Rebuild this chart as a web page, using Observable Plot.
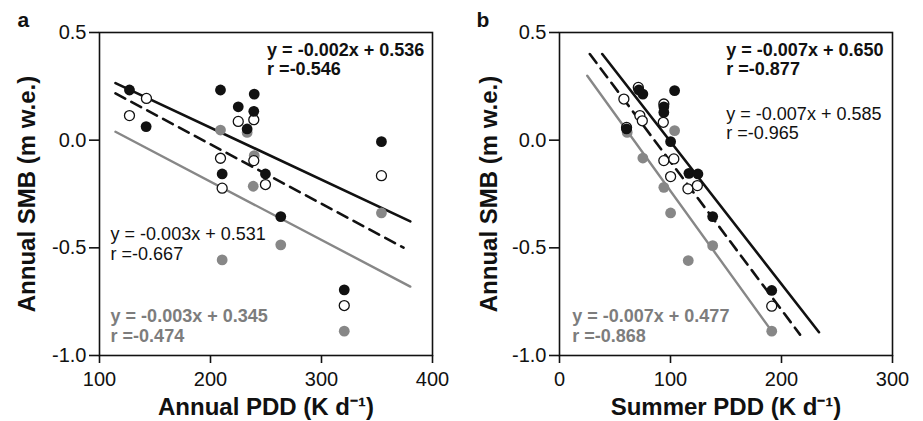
<!DOCTYPE html>
<html>
<head>
<meta charset="utf-8">
<script src="https://cdn.jsdelivr.net/npm/d3@7"></script>
<script src="https://cdn.jsdelivr.net/npm/@observablehq/plot@0.6"></script>
<style>
  body { margin: 0; background: #fff; }
  #wrap { position: relative; width: 923px; height: 421px; overflow: hidden; }
  #wrap svg { position: absolute; top: 0; }
</style>
</head>
<body>
<div id="wrap"></div>
<script>
// ---------- Panel a : Annual PDD vs Annual SMB ----------
const aBlackPDD = [127, 142, 209, 239.4, 225, 239, 233, 210.5, 249.5, 263.3, 320.5, 354];
const aBlackSMB = [0.233, 0.063, 0.233, 0.214, 0.155, 0.134, 0.052, -0.157, -0.157, -0.355, -0.695, -0.007];
const aOpenPDD  = [142.3, 127, 225, 239, 209, 239, 210.5, 249.5, 354, 320.5];
const aOpenSMB  = [0.194, 0.114, 0.087, 0.095, -0.084, -0.095, -0.223, -0.206, -0.165, -0.768];
const aGrayPDD  = [209, 233, 239.4, 238.5, 354, 263.3, 210.5, 320.5];
const aGraySMB  = [0.047, 0.036, -0.072, -0.214, -0.338, -0.486, -0.556, -0.887];
// regression line end points
const aFitBlackX = [114.4, 380],  aFitBlackY = [0.265, -0.377];
const aFitDashX  = [114.4, 373.9], aFitDashY  = [0.217, -0.499];
const aFitGrayX  = [114.4, 380],  aFitGrayY  = [0.039, -0.680];
const aLabels = ["y = -0.002x + 0.536\nr =-0.546", "y = -0.003x + 0.531\nr =-0.667", "y = -0.003x + 0.345\nr =-0.474"];

// ---------- Panel b : Summer PDD vs Annual SMB ----------
const bBlackPDD = [71.5, 75.1, 103.7, 94, 94, 60.4, 100.1, 116.6, 124.7, 138, 191.2];
const bBlackSMB = [0.233, 0.214, 0.230, 0.155, 0.129, 0.052, -0.007, -0.154, -0.157, -0.355, -0.698];
const bOpenPDD  = [71, 94, 60.4, 58, 72.4, 74.6, 93.5, 94, 103, 100.1, 115.7, 124.2, 191.2];
const bOpenSMB  = [0.245, 0.168, 0.059, 0.191, 0.114, 0.090, 0.083, -0.095, -0.087, -0.169, -0.226, -0.211, -0.771];
const bGrayPDD  = [61, 103.7, 75.1, 94, 100.1, 138, 116, 191.2];
const bGraySMB  = [0.036, 0.044, -0.083, -0.219, -0.338, -0.490, -0.559, -0.887];
const bFitBlackX = [38.5, 233.8], bFitBlackY = [0.400, -0.892];
const bFitDashX  = [27.3, 216.7], bFitDashY  = [0.400, -0.903];
const bFitGrayX  = [25.0, 191.2], bFitGrayY  = [0.299, -0.887];
const bLabels = ["y = -0.007x + 0.650\nr =-0.877", "y = -0.007x + 0.585\nr =-0.965", "y = -0.007x + 0.477\nr =-0.868"];

// ---------- axes ----------
const yTicks = [-1.0, -0.5, 0.0, 0.5];
const aXTicks = [100, 200, 300, 400];
const bXTicks = [0, 100, 200, 300];
const yTitle = "Annual SMB (m w.e.)";
const aXTitle = "Annual PDD (K d\u207B\u00B9)";
const bXTitle = "Summer PDD (K d\u207B\u00B9)";

const FONT = "'Liberation Sans', Arial, Helvetica, sans-serif";
const GRAY = "#878787";
const GRAYTXT = "#7d7d7d";

const pts = (xs, ys) => xs.map((x, i) => ({x, y: ys[i]}));

function panel(cfg) {
  const fitB = pts(cfg.fitBlack[0], cfg.fitBlack[1]);
  const fitD = pts(cfg.fitDash[0], cfg.fitDash[1]);
  const fitG = pts(cfg.fitGray[0], cfg.fitGray[1]);
  return Plot.plot({
    width: cfg.width,
    height: 421,
    marginLeft: 99,
    marginRight: cfg.marginRight,
    marginTop: 32,
    marginBottom: 66,
    style: {fontFamily: FONT, background: "transparent", overflow: "visible"},
    x: {domain: cfg.xDomain, axis: null},
    y: {domain: [-1, 0.5], axis: null},
    marks: [
      Plot.frame({stroke: "#111", strokeWidth: 1.6}),
      Plot.axisX({ticks: cfg.xTicks, tickSize: 8, tickPadding: 8, fontSize: 20, strokeWidth: 1.6, stroke: "#111",
                  tickFormat: d => String(d), label: null, fill: "#111"}),
      Plot.axisY({ticks: yTicks, tickSize: 10, tickPadding: 3, fontSize: 20, strokeWidth: 1.6, stroke: "#111",
                  tickFormat: d => d.toFixed(1), label: null, fill: "#111"}),
      Plot.text([cfg.xTitle], {frameAnchor: "bottom", dy: 59, lineAnchor: "bottom", textAnchor: "middle", fontSize: 24, fontWeight: "bold", fill: "#111"}),
      Plot.text([yTitle], {frameAnchor: "left", dx: cfg.yTitleDx, rotate: -90, lineAnchor: "middle", textAnchor: "middle", fontSize: 24, fontWeight: "bold", fill: "#111"}),
      Plot.text([cfg.letter], {frameAnchor: "top-left", dx: cfg.letterDx, dy: -6, lineAnchor: "bottom", textAnchor: "start", fontSize: 21, fontWeight: "bold", fill: "#111"}),
      // regression lines
      Plot.line(fitG, {x: "x", y: "y", stroke: GRAY, strokeWidth: 2.4}),
      Plot.line(fitD, {x: "x", y: "y", stroke: "#111", strokeWidth: 2.6, strokeDasharray: "11,7"}),
      Plot.line(fitB, {x: "x", y: "y", stroke: "#111", strokeWidth: 2.6}),
      // points
      Plot.dot(pts(cfg.gray[0], cfg.gray[1]), {x: "x", y: "y", r: 5.4, fill: GRAY, stroke: "none"}),
      Plot.dot(pts(cfg.open[0], cfg.open[1]), {x: "x", y: "y", r: 5, fill: "white", stroke: "#111", strokeWidth: 1.3}),
      Plot.dot(pts(cfg.black[0], cfg.black[1]), {x: "x", y: "y", r: 5.4, fill: "#111", stroke: "none"}),
      // equation labels
      Plot.text([cfg.labels[0]], {x: cfg.lab0[0], y: cfg.lab0[1], lineAnchor: "bottom", textAnchor: "start", lineHeight: 1.02, fontSize: 18, fontWeight: "bold", fill: "#111"}),
      Plot.text([cfg.labels[1]], {x: cfg.lab1[0], y: cfg.lab1[1], lineAnchor: "bottom", textAnchor: "start", lineHeight: 1.08, fontSize: 18, fill: "#111"}),
      Plot.text([cfg.labels[2]], {x: cfg.lab2[0], y: cfg.lab2[1], lineAnchor: "bottom", textAnchor: "start", lineHeight: 1.1, fontSize: 18, fontWeight: "bold", fill: GRAYTXT})
    ]
  });
}

const svgA = panel({
  width: 450, marginRight: 18, xDomain: [100, 400], xTicks: aXTicks, xTitle: aXTitle, letter: "a",
  yTitleDx: -72, letterDx: -82,
  black: [aBlackPDD, aBlackSMB], open: [aOpenPDD, aOpenSMB], gray: [aGrayPDD, aGraySMB],
  fitBlack: [aFitBlackX, aFitBlackY], fitDash: [aFitDashX, aFitDashY], fitGray: [aFitGrayX, aFitGrayY],
  labels: aLabels, lab0: [251, 0.304], lab1: [110, -0.555], lab2: [110, -0.938]
});
const svgB = panel({
  width: 463, marginRight: 31, xDomain: [0, 300], xTicks: bXTicks, xTitle: bXTitle, letter: "b",
  yTitleDx: -70, letterDx: -83,
  black: [bBlackPDD, bBlackSMB], open: [bOpenPDD, bOpenSMB], gray: [bGrayPDD, bGraySMB],
  fitBlack: [bFitBlackX, bFitBlackY], fitDash: [bFitDashX, bFitDashY], fitGray: [bFitGrayX, bFitGrayY],
  labels: bLabels, lab0: [150.3, 0.304], lab1: [150.3, 0.0056], lab2: [11.5, -0.938]
});
svgA.style.left = "0px";
svgB.style.left = "460px";
const wrap = document.getElementById("wrap");
wrap.appendChild(svgA);
wrap.appendChild(svgB);
</script>
</body>
</html>
